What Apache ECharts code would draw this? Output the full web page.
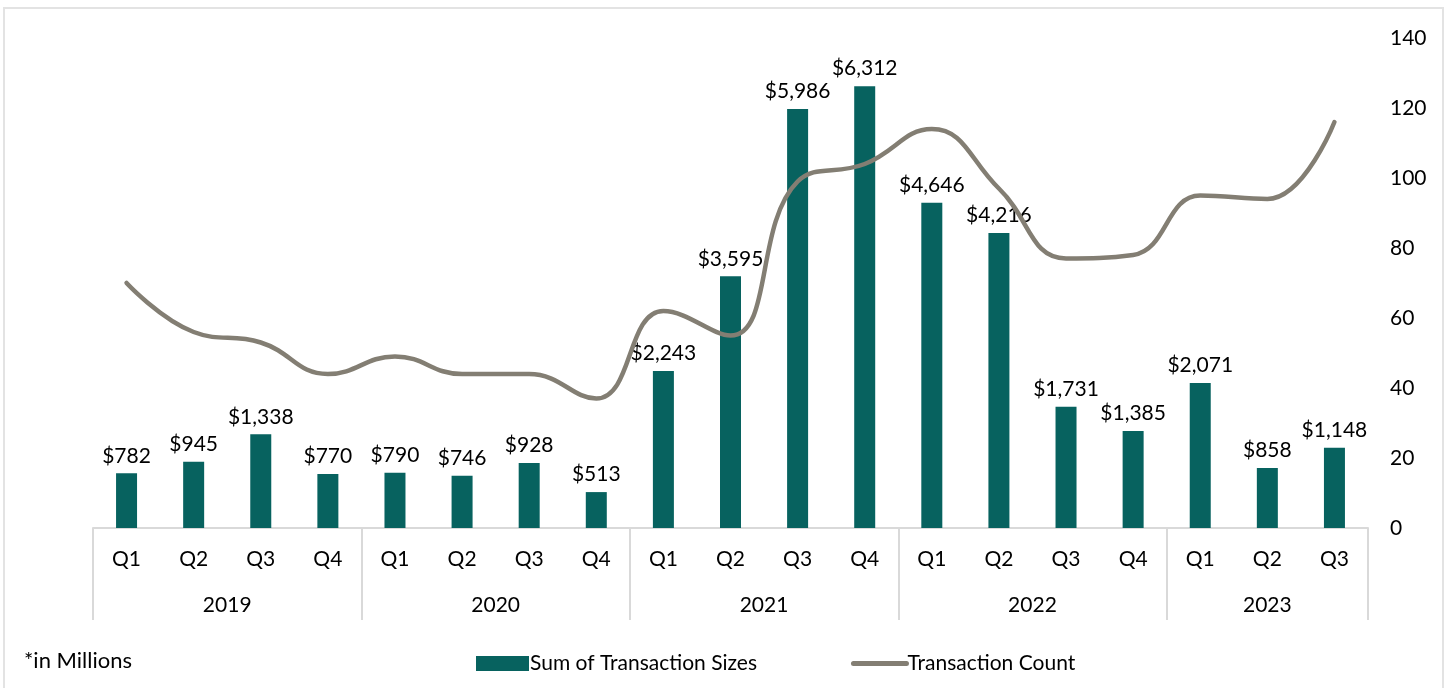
<!DOCTYPE html>
<html>
<head>
<meta charset="utf-8">
<script src="https://cdn.jsdelivr.net/npm/echarts@6/dist/echarts.min.js"></script>
<style>
  html, body { margin: 0; padding: 0; background: #fff; }
  #chart { width: 1448px; height: 688px; }
</style>
</head>
<body>
<div id="chart"></div>
<script>
// quarters along the axis, grouped by year
const quarters = ['Q1', 'Q2', 'Q3', 'Q4', 'Q1', 'Q2', 'Q3', 'Q4', 'Q1', 'Q2', 'Q3', 'Q4',
  'Q1', 'Q2', 'Q3', 'Q4', 'Q1', 'Q2', 'Q3']
const years = ['2019', '2020', '2021', '2022', '2023']
const quartersPerYear = [4, 4, 4, 4, 3]

// sum of transaction sizes ($ millions)
const transactionSizes = [782, 945, 1338, 770, 790, 746, 928, 513, 2243, 3595, 5986, 6312,
  4646, 4216, 1731, 1385, 2071, 858, 1148]
// transaction count
const transactionCount = [70, 56, 53, 44, 49, 44, 44, 37, 62, 55, 99, 104,
  114, 97, 77, 78, 95, 94, 116]

const rightTicks = [0, 140, 20]

// year group boundaries and label positions on a 0..19 scale
const bounds = [0]
quartersPerYear.forEach(n => bounds.push(bounds[bounds.length - 1] + n))
const yearCenters = years.map((y, i) => (bounds[i] + bounds[i + 1]) / 2)

const font = 'Lato, "Open Sans", sans-serif'

const chart = echarts.init(document.getElementById('chart'))
chart.setOption({
  animation: false,
  grid: { left: 93, right: 80, top: 38, bottom: 160 },
  legend: {
    left: 471,
    top: 648,
    itemWidth: 53,
    itemHeight: 15,
    itemGap: 94,
    textStyle: { fontFamily: font, fontSize: 21, color: '#000', padding: [0, 0, 0, -4] },
    data: [
      { name: 'Sum of Transaction Sizes', icon: 'rect' },
      { name: 'Transaction Count', itemStyle: { opacity: 0 }, lineStyle: { width: 5, cap: 'round' } }
    ]
  },
  graphic: [
    {
      type: 'rect',
      shape: { x: 4, y: 8, width: 1439, height: 700 },
      style: { fill: 'none', stroke: '#E3E3E3', lineWidth: 2 },
      silent: true
    },
    {
      type: 'text',
      left: 24,
      top: 650,
      style: { text: '*in Millions', font: '22px ' + font, fill: '#000' }
    }
  ],
  xAxis: [
    {
      type: 'category',
      data: quarters,
      axisLine: { lineStyle: { color: '#D9D9D9', width: 2 } },
      axisTick: { show: false },
      axisLabel: { margin: 21, fontFamily: font, fontSize: 21, color: '#000' }
    },
    {
      type: 'value',
      min: 0,
      max: quarters.length,
      position: 'bottom',
      axisLine: { show: false },
      splitLine: { show: false },
      axisTick: {
        show: true,
        customValues: bounds,
        length: 92,
        lineStyle: { color: '#D9D9D9', width: 2 }
      },
      axisLabel: {
        customValues: yearCenters,
        margin: 67,
        fontFamily: font,
        fontSize: 21,
        color: '#000',
        formatter: v => years[yearCenters.indexOf(v)] || ''
      }
    }
  ],
  yAxis: [
    {
      type: 'value',
      min: 0,
      max: 7000,
      interval: 1000,
      show: false
    },
    {
      type: 'value',
      position: 'right',
      min: rightTicks[0],
      max: rightTicks[1],
      interval: rightTicks[2],
      axisLine: { show: false },
      axisTick: { show: false },
      splitLine: { show: false },
      axisLabel: { margin: 22, fontFamily: font, fontSize: 21, color: '#000' }
    }
  ],
  series: [
    {
      name: 'Sum of Transaction Sizes',
      type: 'bar',
      xAxisIndex: 0,
      yAxisIndex: 0,
      data: transactionSizes,
      barWidth: 21,
      itemStyle: { color: '#07625F' },
      label: {
        show: true,
        position: 'top',
        distance: 7,
        fontFamily: font,
        fontSize: 21,
        color: '#000',
        formatter: p => '$' + p.value.toLocaleString('en-US')
      },
      z: 2
    },
    {
      name: 'Transaction Count',
      type: 'line',
      xAxisIndex: 0,
      yAxisIndex: 1,
      data: transactionCount,
      smooth: 0.45,
      symbol: 'none',
      lineStyle: { color: '#837E73', width: 4.5, cap: 'round' },
      itemStyle: { color: '#837E73' },
      z: 3
    }
  ]
})
</script>
</body>
</html>
